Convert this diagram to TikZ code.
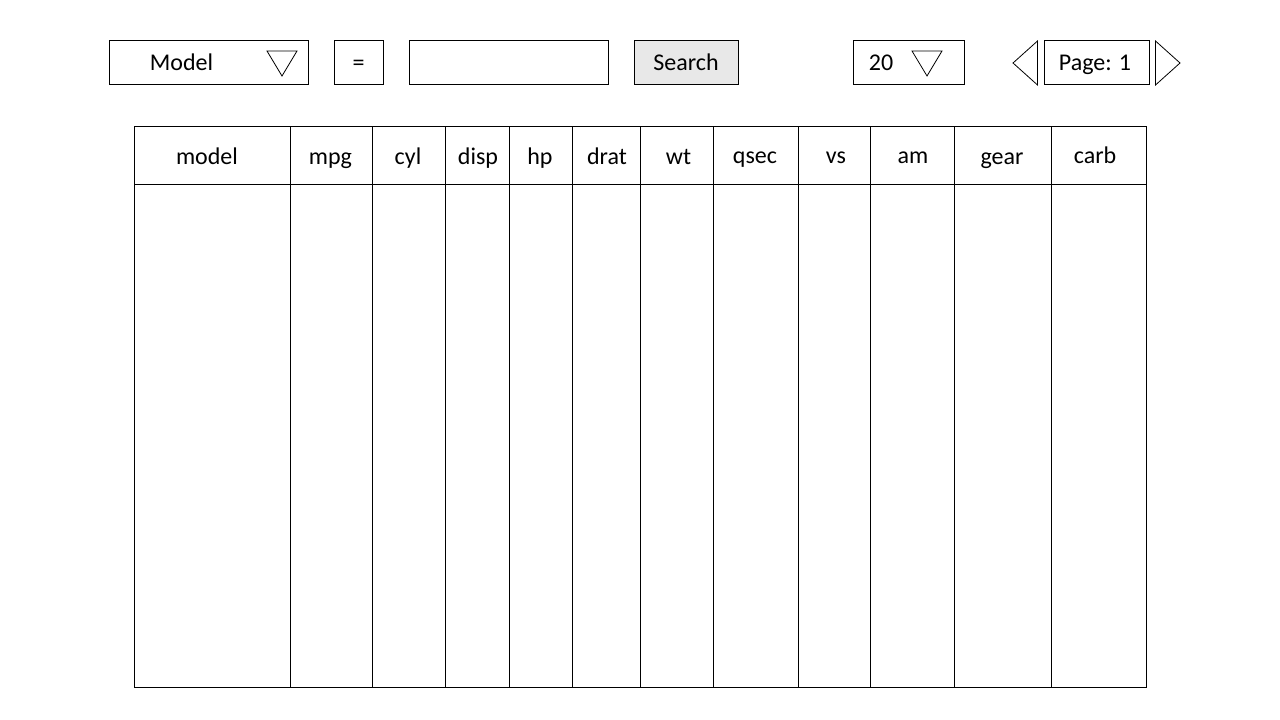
\documentclass[tikz,border=0pt]{standalone}
\usepackage{fontspec}
\setmainfont{Carlito}
\newcommand\px{0.75pt}
\newcommand\Ybar{63}
\newcommand\Ybase{71}
\newcommand\Yhead{165}
\newcommand\Yhigh{163.5}

\begin{document}
\begin{tikzpicture}
  [x=\px, y=-\px, line width=0.75pt,
   font=\fontsize{18}{21.6}\selectfont,
   box/.style = {
     draw, rectangle, inner sep=0pt, minimum height=44*\px
   },
   button/.style = {
     box, fill=gray!18
   },
   label/.style = {
     anchor=base, inner sep=0pt
   },
   arrowtip/.style = {
     line width=0.6pt, line join=miter
   }]

  \useasboundingbox (0,0) rectangle (1280,720);

  % Filter bar.
  \node[box, minimum width=199*\px] at (208.5,\Ybar) (colbox) {};
  \node[label] at (181.5,\Ybase) (coltext) {Model};
  \draw[arrowtip] (267,51) -- (297,51) -- (282,76) -- cycle;

  \node[box, minimum width=49*\px] at (358.5,\Ybar) (opbox) {};
  \node[label] at (358.5,\Ybase) (optext) {=};

  \node[box, minimum width=199*\px] at (508.5,\Ybar) (valbox) {};

  \node[button, minimum width=104*\px] at (686,\Ybar) (search) {};
  \node[label] at (686,\Ybase) (searchtext) {Search};

  % Page size and paging.
  \node[box, minimum width=111*\px] at (908.5,\Ybar) (sizebox) {};
  \node[label] at (881,\Ybase) (sizetext) {20};
  \draw[arrowtip] (912,51) -- (942,51) -- (927,76) -- cycle;

  \draw[arrowtip] (1037.5,41) -- (1037.5,85) -- (1013,63) -- cycle;
  \node[box, minimum width=105*\px] at (1096.5,\Ybar) (pagebox) {};
  \node[label] at (1095,\Ybase) (pagetext) {Page: 1};
  \draw[arrowtip] (1155.5,41) -- (1155.5,85) -- (1180,63) -- cycle;

  % Table frame.
  \node[box, minimum width=1012*\px, minimum height=560*\px] at (640,407) (table) {};
  \coordinate (headL) at (134,185);
  \coordinate (headR) at (1146,185);
  \draw (headL) -- (headR);
  \foreach \x in {290,372,445,509,572,640,713,798,870,954,1051}
    \draw (\x,127) -- (\x,687);

  % Column headers.
  \node[label] at (207,\Yhead) (hmodel) {model};
  \node[label] at (330.5,\Yhead) (hmpg) {mpg};
  \node[label] at (408,\Yhead) (hcyl) {cyl};
  \node[label] at (478,\Yhead) (hdisp) {disp};
  \node[label] at (540,\Yhead) (hhp) {hp};
  \node[label] at (607,\Yhead) (hdrat) {drat};
  \node[label] at (678.5,\Yhead) (hwt) {wt};
  \node[label] at (755,\Yhigh) (hqsec) {qsec};
  \node[label] at (836,\Yhigh) (hvs) {vs};
  \node[label] at (913,\Yhigh) (ham) {am};
  \node[label] at (1002,\Yhead) (hgear) {gear};
  \node[label] at (1095,\Yhigh) (hcarb) {carb};

\end{tikzpicture}
\end{document}
